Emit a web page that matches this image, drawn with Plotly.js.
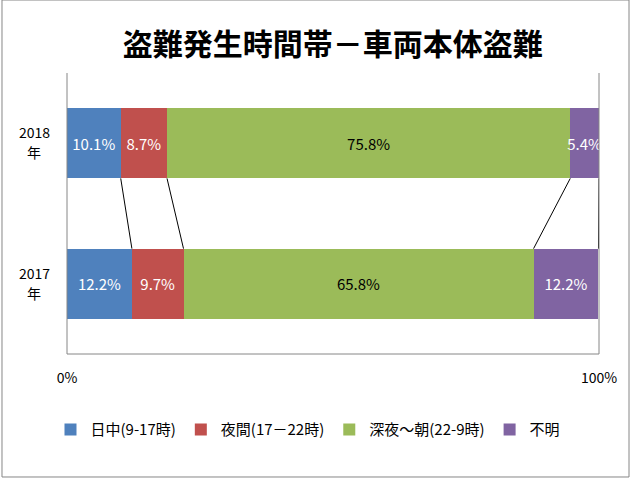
<!DOCTYPE html>
<html>
<head>
<meta charset="utf-8">
<script src="https://cdn.plot.ly/plotly-3.0.1.min.js"></script>
<style>html,body{margin:0;padding:0;background:#fff;}#chart{width:634px;height:482px;}</style>
</head>
<body>
<div id="chart"></div>
<script>
const years = ['2018', '2017'];
const yearSuffix = '年';
const seriesNames = ['日中(9-17時)', '夜間(17－22時)', '深夜～朝(22-9時)', '不明'];
const seriesColors = ['#4F81BD', '#C0504D', '#9BBB59', '#8064A2'];
const textColors = ['#ffffff', '#ffffff', '#000000', '#ffffff'];
const daytime = [10.1, 12.2];
const evening = [8.7, 9.7];
const lateNight = [75.8, 65.8];
const unknown = [5.4, 12.2];
const tickVals = [0, 100];
const tickText = ['0%', '100%'];

const seriesValues = [daytime, evening, lateNight, unknown];
const yPos = [1, 0]; // 2018 on top, 2017 below
const barWidth = 0.5;
const FONT = '"Noto Sans CJK JP", "Noto Sans", sans-serif';

const traces = [];
seriesValues.forEach((vals, i) => {
  traces.push({
    type: 'bar',
    orientation: 'h',
    name: seriesNames[i],
    x: vals,
    y: yPos,
    width: barWidth,
    marker: {color: seriesColors[i], line: {width: 0}},
    texttemplate: '%{x:.1f}%',
    textposition: 'inside',
    insidetextanchor: 'middle',
    textangle: 0,
    constraintext: 'none',
    textfont: {color: textColors[i], size: 15, family: FONT},
    hoverinfo: 'none'
  });
});

// series connector lines between the two bars
const cum = [0, 0];
seriesValues.forEach((vals) => {
  cum[0] += vals[0];
  cum[1] += vals[1];
  traces.push({
    type: 'scatter',
    mode: 'lines',
    x: [cum[0], cum[1]],
    y: [yPos[0] - barWidth / 2, yPos[1] + barWidth / 2],
    line: {color: '#000000', width: 1},
    showlegend: false,
    hoverinfo: 'skip'
  });
});

const annotations = [];
years.forEach((yr, i) => {
  annotations.push({
    xref: 'paper', yref: 'y', x: -0.062, y: yPos[i], yshift: 11,
    text: yr, showarrow: false, xanchor: 'center', yanchor: 'middle',
    font: {size: 14, color: '#000', family: FONT}
  });
  annotations.push({
    xref: 'paper', yref: 'y', x: -0.062, y: yPos[i], yshift: -9,
    text: yearSuffix, showarrow: false, xanchor: 'center', yanchor: 'middle',
    font: {size: 14, color: '#000', family: FONT}
  });
});

const layout = {
  width: 634, height: 482,
  margin: {l: 67, r: 35, t: 73, b: 128},
  paper_bgcolor: '#ffffff',
  plot_bgcolor: '#ffffff',
  font: {family: FONT, color: '#000'},
  title: {
    text: '<b>盗難発生時間帯－車両本体盗難</b>',
    x: 0.525, xanchor: 'center', xref: 'container',
    y: 0.907, yanchor: 'middle', yref: 'container',
    font: {size: 30, color: '#000', family: FONT}
  },
  barmode: 'stack',
  showlegend: true,
  legend: {
    orientation: 'h',
    x: 0.453, xanchor: 'center',
    y: -0.27, yanchor: 'middle',
    font: {size: 15, color: '#000', family: FONT},
    itemwidth: 30,
    traceorder: 'normal',
    tracegroupgap: 0
  },
  xaxis: {
    range: [0, 100],
    tickvals: tickVals,
    ticktext: tickText,
    showgrid: false,
    zeroline: false,
    showline: false,
    ticks: '',
    ticklabelstandoff: 14,
    tickfont: {size: 14, color: '#000', family: FONT},
    fixedrange: true
  },
  yaxis: {
    range: [-0.5, 1.5],
    showticklabels: false,
    showgrid: false,
    zeroline: false,
    showline: false,
    ticks: '',
    fixedrange: true
  },
  annotations: annotations,
  shapes: [
    {type: 'line', xref: 'paper', yref: 'paper', x0: 0, x1: 0, y0: 0, y1: 1, line: {color: '#868686', width: 1}},
    {type: 'line', xref: 'paper', yref: 'paper', x0: 1, x1: 1, y0: 0, y1: 1, line: {color: '#868686', width: 1}},
    {type: 'line', xref: 'paper', yref: 'paper', x0: 0, x1: 1, y0: 0, y1: 0, line: {color: '#868686', width: 1}},
    {type: 'rect', xref: 'paper', yref: 'paper', x0: -0.1222, x1: 1.0564, y0: -0.4377, y1: 1.2598, line: {color: '#868686', width: 1}, layer: 'below'}
  ]
};

Plotly.newPlot('chart', traces, layout, {displayModeBar: false, staticPlot: true});
</script>
</body>
</html>
